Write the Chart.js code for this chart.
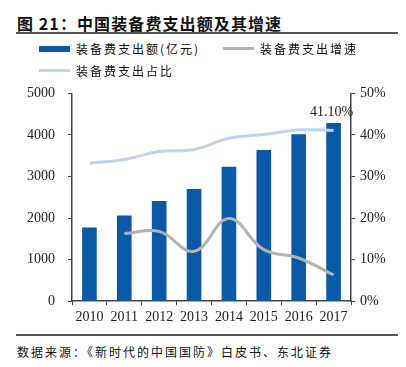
<!DOCTYPE html>
<html>
<head>
<meta charset="utf-8">
<script src="https://cdn.jsdelivr.net/npm/chart.js@4.4.1/dist/chart.umd.min.js"></script>
<style>
  body { margin: 0; width: 406px; height: 367px; background: #fff; position: relative; overflow: hidden;
         font-family: "Noto Sans CJK SC", sans-serif; color: #111; }
  #title { position: absolute; left: 17px; top: 11px; font-size: 16px; font-weight: bold; letter-spacing: 1.1px; white-space: nowrap; }
  .rule { position: absolute; left: 16px; width: 382px; height: 1.5px; background: #555; }
  #legend { position: absolute; left: 39px; top: 40px; width: 360px; font-size: 12px; letter-spacing: 2px; z-index: 2; }
  .item { position: absolute; white-space: nowrap; display: flex; align-items: center; }
  .swatch { width: 31px; margin-right: 6px; }
  #wrap { position: absolute; left: 0; top: 72px; width: 406px; height: 258px; }
  #foot { position: absolute; left: 17px; top: 343px; font-size: 12px; letter-spacing: 2px; white-space: nowrap; }
</style>
</head>
<body>
<div id="title">图 21：中国装备费支出额及其增速</div>
<div class="rule" style="top:32px"></div>
<div id="legend"></div>
<div id="wrap"><canvas id="chart"></canvas></div>
<div class="rule" style="top:334px"></div>
<div id="foot">数据来源：《新时代的中国国防》白皮书、东北证券</div>
<script>
// categories and values
const years = ["2010", "2011", "2012", "2013", "2014", "2015", "2016", "2017"];
const spending = [1774, 2063, 2410, 2699, 3236, 3638, 4016, 4288];      // 亿元
const growth = [null, 16.3, 16.8, 12.0, 19.9, 12.4, 10.4, 6.3];         // %
const share = [33.2, 34.1, 36.0, 36.5, 39.2, 40.1, 41.2, 41.1];         // %
const seriesNames = ["装备费支出额(亿元)", "装备费支出增速", "装备费支出占比"];

const barBlue = "#0b5aa8";
const growthGray = "#b3b3b3";
const shareBlue = "#bcd5ee";
const axisColor = "#444";
const tickFont = {family: "'Liberation Serif', 'Times New Roman', serif", size: 14};

// draws the value of the last share point, above it
const lastLabel = {
	id: "lastLabel",
	afterDatasetsDraw(chart){
		const meta = chart.getDatasetMeta(2);
		const pt = meta.data[meta.data.length - 1];
		const ctx = chart.ctx;
		ctx.save();
		ctx.font = "14px 'Liberation Serif', serif";
		ctx.fillStyle = "#222";
		ctx.textAlign = "center";
		ctx.textBaseline = "middle";
		ctx.fillText(share[share.length - 1].toFixed(2) + "%", pt.x - 2, pt.y - 18);
		ctx.restore();
	}
};

const chart = new Chart("chart", {
	type: "bar",
	data: {
		labels: years,
		datasets: [
			{
				label: seriesNames[0],
				data: spending,
				backgroundColor: barBlue,
				yAxisID: "y",
				order: 2,
				categoryPercentage: 1,
				barPercentage: 0.42
			},
			{
				type: "line",
				label: seriesNames[1],
				data: growth,
				borderColor: growthGray,
				borderWidth: 3,
				pointRadius: 0,
				tension: 0.4,
				yAxisID: "y1",
				order: 1
			},
			{
				type: "line",
				label: seriesNames[2],
				data: share,
				borderColor: shareBlue,
				borderWidth: 3,
				pointRadius: 0,
				tension: 0.4,
				yAxisID: "y1",
				order: 1
			}
		]
	},
	options: {
		responsive: true,
		maintainAspectRatio: false,
		animation: false,
		layout: {padding: {top: 4, left: 0, right: 0, bottom: 0}},
		plugins: {
			legend: {display: false},
			tooltip: {enabled: false}
		},
		scales: {
			x: {
				grid: {display: true, drawOnChartArea: false, color: axisColor, tickLength: 4, offset: true},
				border: {color: axisColor, width: 1.5},
				ticks: {font: tickFont, color: "#222", padding: 4, maxRotation: 0, autoSkip: false}
			},
			y: {
				position: "left",
				min: 0, max: 5000,
				grid: {display: true, drawOnChartArea: false, color: axisColor, tickLength: 4},
				border: {color: axisColor, width: 1.5},
				ticks: {stepSize: 1000, font: tickFont, color: "#222", padding: 13,
					callback: v => String(v)},
				afterFit(scale){ scale.width = 72; }
			},
			y1: {
				position: "right",
				min: 0, max: 50,
				grid: {display: true, drawOnChartArea: false, color: axisColor, tickLength: 4},
				border: {color: axisColor, width: 1.5},
				ticks: {stepSize: 10, font: tickFont, color: "#222", padding: 5,
					callback: v => v + "%"},
				afterFit(scale){ scale.width = 55; }
			}
		}
	},
	plugins: [lastLabel]
});

// html legend built from the datasets, two items on the first row, one below
const legendPos = [[0, 0], [184, 0], [0, 22]];
const legendEl = document.getElementById("legend");
chart.data.datasets.forEach(function(ds, i){
	const item = document.createElement("div");
	item.className = "item";
	item.style.left = legendPos[i][0] + "px";
	item.style.top = legendPos[i][1] + "px";
	const sw = document.createElement("span");
	sw.className = "swatch";
	sw.style.height = (ds.type === "line" ? 3 : 6) + "px";
	sw.style.background = ds.type === "line" ? ds.borderColor : ds.backgroundColor;
	item.appendChild(sw);
	const txt = document.createElement("span");
	txt.textContent = ds.label;
	item.appendChild(txt);
	legendEl.appendChild(item);
});
</script>
</body>
</html>
